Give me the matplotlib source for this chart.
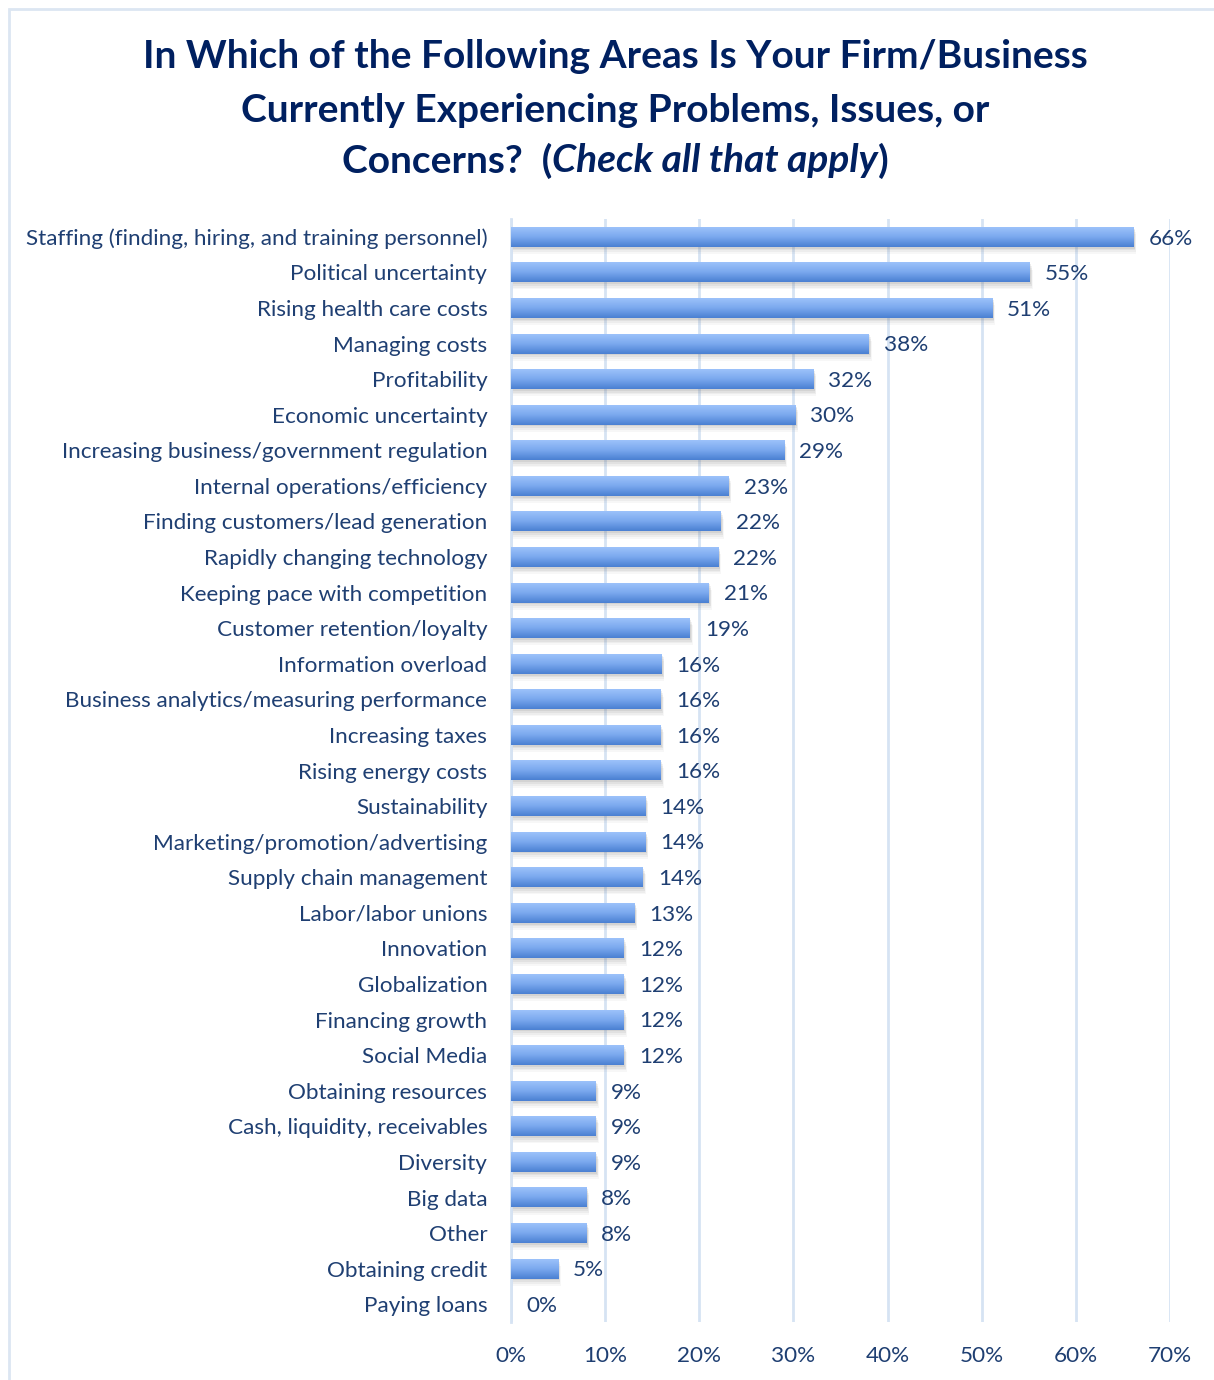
import matplotlib.pyplot as plt
import numpy as np
from matplotlib.colors import LinearSegmentedColormap
from matplotlib.patches import Rectangle

plt.rcParams["font.family"] = ["Lato", "DejaVu Sans"]

categories = [
    "Staffing (finding, hiring, and training personnel)",
    "Political uncertainty",
    "Rising health care costs",
    "Managing costs",
    "Profitability",
    "Economic uncertainty",
    "Increasing business/government regulation",
    "Internal operations/efficiency",
    "Finding customers/lead generation",
    "Rapidly changing technology",
    "Keeping pace with competition",
    "Customer retention/loyalty",
    "Information overload",
    "Business analytics/measuring performance",
    "Increasing taxes",
    "Rising energy costs",
    "Sustainability",
    "Marketing/promotion/advertising",
    "Supply chain management",
    "Labor/labor unions",
    "Innovation",
    "Globalization",
    "Financing growth",
    "Social Media",
    "Obtaining resources",
    "Cash, liquidity, receivables",
    "Diversity",
    "Big data",
    "Other",
    "Obtaining credit",
    "Paying loans",
]
values = [66.1, 55.1, 51.1, 38.0, 32.1, 30.2, 29.0, 23.1, 22.3, 22.0, 21.0,
          19.0, 16.0, 15.9, 15.9, 15.9, 14.3, 14.3, 14.0, 13.1, 12.0, 12.0,
          12.0, 12.0, 9.0, 9.0, 9.0, 8.0, 8.0, 5.0, 0.0]
xticks = [0, 10, 20, 30, 40, 50, 60, 70]

navy = "#002060"
text_col = "#1F3F72"
grid_col = "#D6E3F3"
fs = 16.2

fig = plt.figure(figsize=(12.14, 13.8), dpi=100)
ax = fig.add_axes([0.4209, 0.042, 0.5429, 0.7993])

# frame around the chart (only top and left edges visible)
fig.patches.append(Rectangle((9 / 1214, -0.1), 1.2, (1380 - 9) / 1380 + 0.1,
                             transform=fig.transFigure, fill=False,
                             edgecolor="#DCE6F2", linewidth=2))

cmap = LinearSegmentedColormap.from_list("bar", ["#9CC2FA", "#7AA8EE", "#4A80D2"])
grad = np.linspace(0, 1, 64).reshape(-1, 1)
h = 0.56
for i, v in enumerate(values):
    if v <= 0:
        continue
    # soft shadow below the bar
    for k, a in enumerate([0.12, 0.09, 0.07, 0.05]):
        off = 0.05 + 0.05 * k
        ax.add_patch(Rectangle((0.15, i - h / 2 + off), v + 0.05 * k, h,
                               facecolor="#707070", alpha=a, linewidth=0, zorder=2))
    ax.imshow(grad, extent=(0, v, i - h / 2, i + h / 2), origin="lower",
              aspect="auto", cmap=cmap, zorder=3, interpolation="bicubic")
    ax.text(v + 1.6, i + 0.05, f"{v:.0f}%", va="center", ha="left",
            fontsize=fs, color=text_col, zorder=4)
ax.text(1.6, len(values) - 1 + 0.05, "0%", va="center", ha="left",
        fontsize=fs, color=text_col, zorder=4)

ax.set_xlim(0, 70)
ax.set_ylim(len(values) - 0.5, -0.5)
ax.set_xticks(xticks)
ax.set_xticklabels([f"{t}%" for t in xticks], fontsize=fs, color=text_col)
ax.set_yticks(range(len(categories)))
ax.set_yticklabels(categories, fontsize=fs, color=text_col)
ax.tick_params(axis="both", length=0)
ax.tick_params(axis="y", pad=17)
ax.tick_params(axis="x", pad=17)
ax.grid(axis="x", color=grid_col, linewidth=2, zorder=0)
ax.set_axisbelow(True)
for s in ["top", "right", "bottom"]:
    ax.spines[s].set_visible(False)
ax.spines["left"].set_color(grid_col)
ax.spines["left"].set_linewidth(2)

# title, last line mixes bold and bold italic
tfs = 28
fig.text(0.5066, 1 - 57 / 1380, "In Which of the Following Areas Is Your Firm/Business",
         ha="center", va="center", fontsize=tfs, fontweight="bold", color=navy)
fig.text(0.5066, 1 - 110 / 1380, "Currently Experiencing Problems, Issues, or",
         ha="center", va="center", fontsize=tfs, fontweight="bold", color=navy)
parts = [("Concerns?  (", "normal"), ("Check all that apply", "italic"), (")", "normal")]
renderer = fig.canvas.get_renderer()
texts = []
widths = []
for s, st in parts:
    t = fig.text(0, 1 - 161 / 1380, s, ha="left", va="center", fontsize=tfs,
                 fontweight="bold", fontstyle=st, color=navy)
    texts.append(t)
    widths.append(t.get_window_extent(renderer).width)
x = 0.5066 * fig.bbox.width - sum(widths) / 2
for t, w in zip(texts, widths):
    t.set_x(x / fig.bbox.width)
    x += w

fig.savefig("out.png", dpi=100)
